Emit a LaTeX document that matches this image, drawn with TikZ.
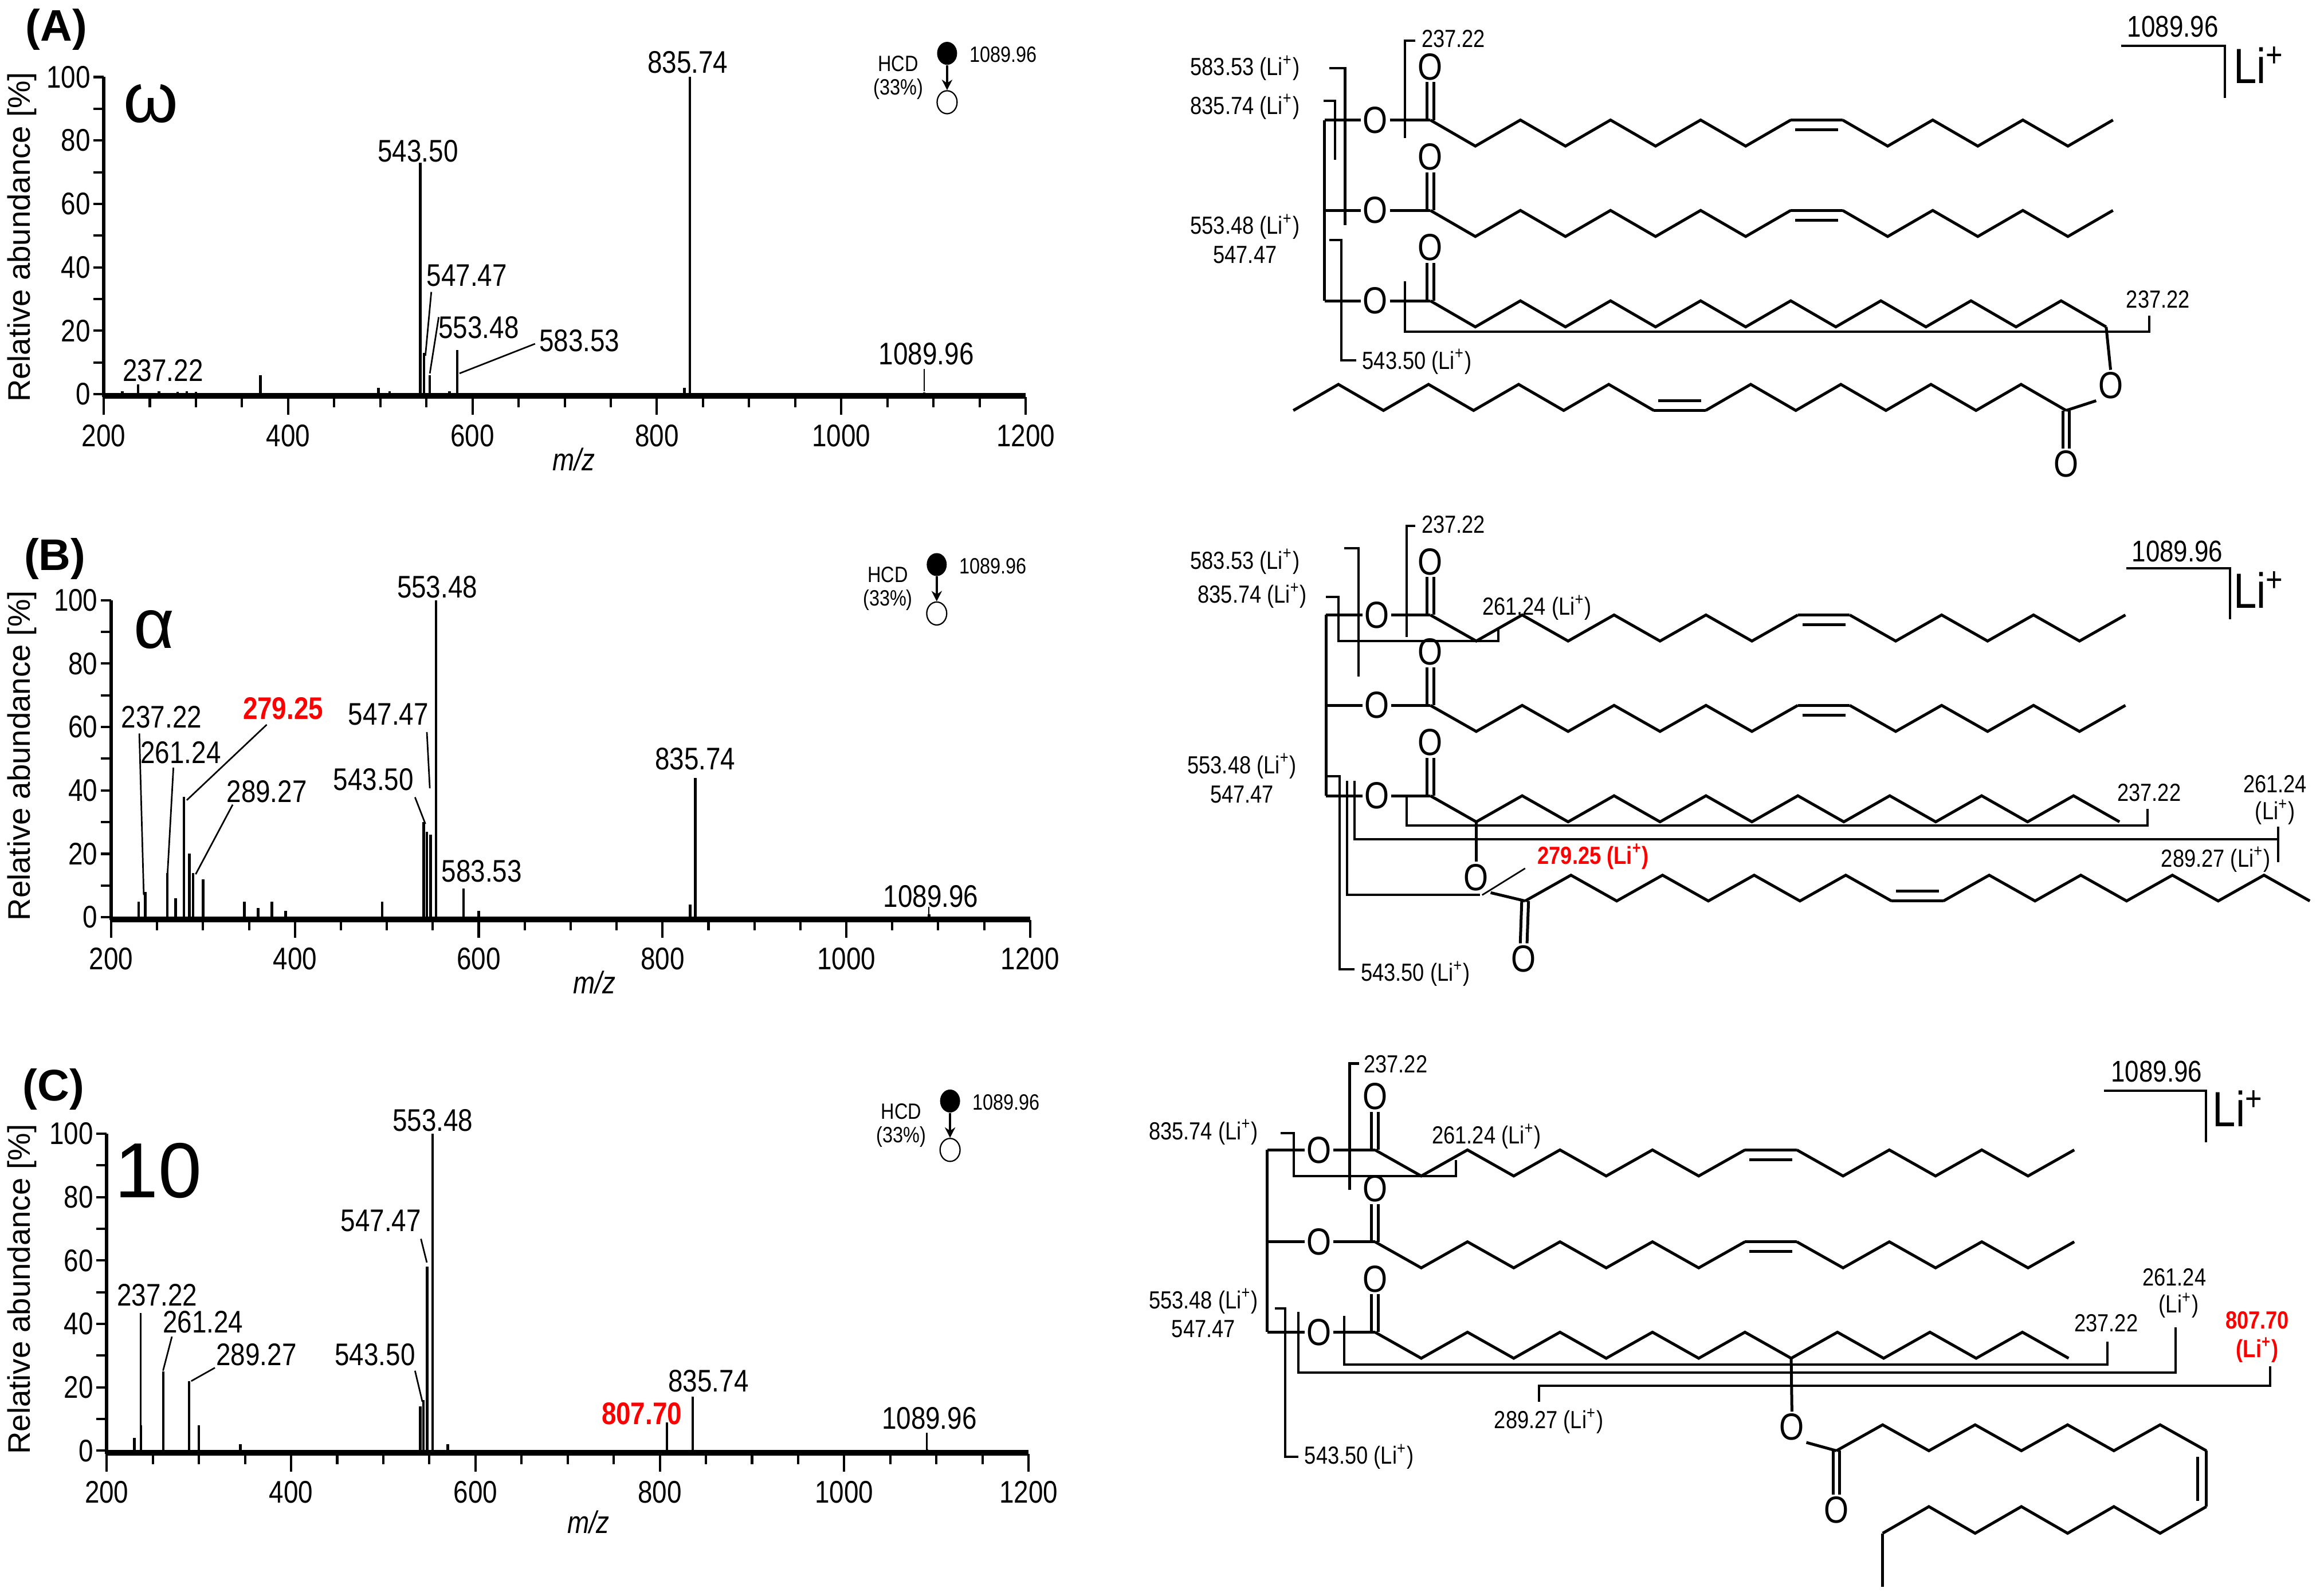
\documentclass[tikz,border=0pt]{standalone}
\usepackage{fontspec}
\setmainfont{Liberation Sans}
\newfontfamily\nar[FakeStretch=0.84]{Liberation Sans}
\usetikzlibrary{shapes.geometric,arrows.meta}
\tikzset{
 bond/.style={line width=1.1pt,line join=miter},
 brk/.style={line width=0.9pt},
 peak/.style={line width=1pt},
 axl/.style={line width=1.4pt},
 lead/.style={line width=0.6pt},
 atom/.style={inner sep=0.6pt,font=\nar\fontsize{14.5}{15}\selectfont},
 tl/.style={font=\nar\fontsize{12}{13}\selectfont},
 yl/.style={font=\fontsize{12}{13}\selectfont,rotate=90},
 cl/.style={font=\nar\fontsize{9.5}{10}\selectfont},
 red/.style={text=red,font=\nar\fontsize{9.5}{10}\selectfont\bfseries},
 pl/.style={font=\fontsize{17}{18}\selectfont\bfseries},
 lip/.style={font=\nar\fontsize{19}{20}\selectfont},
}
\newcommand\zzp[5]{% x0,y0,n,dx,dy
 \draw[bond] plot[samples at={0,...,#3}] ({#1+\x*#4},{#2+#5*mod(\x,2)});}
\newcommand\esterrow[8]{% id, xb, xo, xc, y, n1, n2, dx
 \node[atom] (#1o) at (#3,#5) {O};
 \node[atom] (#1oc) at (#4,{#5-36}) {O};
 \coordinate (#1c) at (#4,#5);
 \draw[bond] (#2,#5) -- (#1o.west);
 \draw[bond] (#1o.east) -- (#1c);
 \draw[bond] ([xshift=-1.3pt]#1c) -- ([xshift=-1.3pt]#1oc.south);
 \draw[bond] ([xshift=1.3pt]#1c) -- ([xshift=1.3pt]#1oc.south);
 \zzp{#4}{#5}{#6}{#8}{17.6}
 \pgfmathsetmacro\xe{#4+#6*#8}
 \coordinate (#1e) at ({#4+#6*#8},{#5+17.6*mod(#6,2)});
 \ifnum#7>0
  \pgfmathsetmacro\xf{\xe+35}
  \coordinate (#1f) at (\xf,#5);
  \draw[bond] (#1e) -- (#1f);
  \draw[bond] ([shift={(3,6.5)}]#1e) -- ([shift={(-3,6.5)}]#1f);
  \zzp{\xf}{#5}{#7}{#8}{17.6}
 \fi}
\newcommand\spec[4]{% id, ox, oy, sx
 \draw[line width=0.7pt] (#2,#3) -- ({#2+1000*#4},#3);
 \draw[axl] (#2,{#3+2}) -- ({#2+1000*#4},{#3+2});
 \draw[axl] (#2,{#3+2}) -- (#2,{#3-214});
 \foreach \v in {0,10,...,100}{\draw[brk] (#2,{#3-\v*2.14}) -- ++(-7,0);}
 \foreach \v in {0,20,...,100}{\node[tl,anchor=east,inner sep=1pt] (#1y\v) at ({#2-7},{#3-\v*2.14}) {\v};}
 \foreach \m in {200,250,...,1200}{\draw[brk] ({#2+(\m-200)*#4},{#3+2}) -- ++(0,7);}
 \foreach \m in {200,400,...,1200}{\draw[brk] ({#2+(\m-200)*#4},{#3+2}) -- ++(0,12);
   \node[tl] (#1x\m) at ({#2+(\m-200)*#4},{#3+28}) {\m};}
}
\newcommand\pks[4]{% ox, oy, sx, list
 \foreach \m/\h in {#4}{\draw[peak] ({#1+(\m-200)*#3},#2) -- ++(0,{-\h*2.14});}}
\newcommand\hcd[3]{% id, x, y
 \node[ellipse,fill=black,minimum width=0.27cm,minimum height=0.31cm,inner sep=0] (#1f) at (#2,#3) {};
 \node[ellipse,draw,line width=0.5pt,minimum width=0.27cm,minimum height=0.31cm,inner sep=0] (#1h) at (#2,{#3+33}) {};
 \draw[line width=1pt,-{Stealth[length=4pt,width=4pt]}] (#1f) -- (#1h);
 \node[font=\nar\fontsize{8.5}{9}\selectfont,anchor=west] (#1p) at ({#2+9},{#3+1}) {1089.96};
 \node[font=\nar\fontsize{8.5}{9}\selectfont] (#1a) at ({#2-33},{#3+7}) {HCD};
 \node[font=\nar\fontsize{8.5}{9}\selectfont] (#1b) at ({#2-33},{#3+24}) {(33\%)};
}
\begin{document}
\begin{tikzpicture}[x=0.02cm,y=-0.02cm]
\useasboundingbox (0,0) rectangle (1568,1077);
% ================= A spectrum
\node[pl] (pA) at (38,20) {(A)};
\node[font=\fontsize{27}{28}\selectfont] (om) at (102,70) {ω};
\spec{A}{70}{266}{0.622}
\pks{70}{266}{0.622}{220/1,237.22/3,260/1,280/0.8,290/1,300/0.8,370/6,498/2,510/1,543.5/73,547.47/13,553.48/6,575/1,583.53/14,830/2,835.74/100,1089.96/0.5}
\node[tl] (A1) at (110,250) {237.22};
\node[tl] (A2) at (282,102) {543.50};
\node[tl] (A3) at (315,186) {547.47};
\node[tl] (A4) at (323,221) {553.48};
\node[tl] (A5) at (391,230) {583.53};
\node[tl] (A6) at (464,42) {835.74};
\node[tl] (A7) at (625,239) {1089.96};
\draw[lead] (291,197) -- (287,240);
\draw[lead] (296,214) -- (290,252);
\draw[lead] (361,232) -- (310,252);
\draw[lead] (623.6,249) -- (623.6,264);
\node[yl] (Ay) at (15,160) {Relative abundance [\%]};
\node[tl] (Am) at (387,310) {\textit{m/z}};
\hcd{hA}{639}{36}
% ================= B spectrum
\node[pl] (pB) at (37,377) {(B)};
\node[font=\fontsize{27}{28}\selectfont] (al) at (104,425) {α};
\spec{B}{75}{619}{0.62}
\pks{75}{619}{0.62}{230/5,237.22/8,261.24/14,270/6,279.25/38,285/20,289.27/14,300/12,345/5,360/3,375/5,390/2,495/5,540/30,543.5/27,547.47/26,553.48/100,583.53/9,600/2,830/4,835.74/44,1089.96/1}
\node[tl] (B1) at (109,484) {237.22};
\node[tl] (B2) at (122,508) {261.24};
\node[tl,text=red,font=\nar\fontsize{12}{13}\selectfont\bfseries] (B3) at (191,478) {279.25};
\node[tl] (B4) at (262,482) {547.47};
\node[tl] (B5) at (180,534) {289.27};
\node[tl] (B6) at (252,526) {543.50};
\node[tl] (B7) at (325,588) {583.53};
\node[tl] (B8) at (469,512) {835.74};
\node[tl] (B9) at (295,396) {553.48};
\node[tl] (B10) at (628,605) {1089.96};
\draw[lead] (94,495) -- (97,604);
\draw[lead] (117,518) -- (113,590);
\draw[lead] (180,489) -- (126,540);
\draw[lead] (157,543) -- (132,590);
\draw[lead] (280,538) -- (287,556);
\draw[lead] (288,494) -- (290,532);
\draw[lead] (626.6,612) -- (626.6,619);
\node[yl] (By) at (15,510) {Relative abundance [\%]};
\node[tl] (Bm) at (401,663) {\textit{m/z}};
\hcd{hB}{632}{381}
% ================= C spectrum
\node[pl] (pC) at (36,735) {(C)};
\node[font=\fontsize{30}{32}\selectfont] (ten) at (107,790) {10};
\spec{C}{72}{979}{0.622}
\pks{72}{979}{0.622}{230/4,237.22/8,261.24/25,289.27/22,300/8,345/2,540/14,543.5/16,547.47/58,553.48/100,570/2,807.7/9,835.74/17,1089.96/0.5}
\node[tl] (C1) at (106,874) {237.22};
\node[tl] (C2) at (137,892) {261.24};
\node[tl] (C3) at (173,914) {289.27};
\node[tl] (C4) at (253,914) {543.50};
\node[tl] (C5) at (257,824) {547.47};
\node[tl] (C6) at (292,756) {553.48};
\node[tl,text=red,font=\nar\fontsize{12}{13}\selectfont\bfseries] (C7) at (433,954) {807.70};
\node[tl] (C8) at (478,932) {835.74};
\node[tl] (C9) at (627,957) {1089.96};
\draw[lead] (95,886) -- (95,968);
\draw[lead] (116,902) -- (110,925);
\draw[lead] (145,923) -- (129,932);
\draw[lead] (280,925) -- (285,946);
\draw[lead] (284,836) -- (288,852);
\draw[lead] (625.4,967) -- (625.4,979);
\node[yl] (Cy) at (15,870) {Relative abundance [\%]};
\node[tl] (Cm) at (397,1027) {\textit{m/z}};
\hcd{hC}{641}{743}
% ================= A structure
\draw[bond] (893.6,81) -- (893.6,203);
\esterrow{a1}{893.6}{928}{965}{81}{8}{6}{30.4}
\esterrow{a2}{893.6}{928}{965}{142}{8}{6}{30.4}
\esterrow{a3}{893.6}{928}{965}{203}{15}{0}{30.4}
\node[atom] (a4o) at (1424,260) {O};
\coordinate (a4c) at (1394,277);
\node[atom] (a4oc) at (1394,313) {O};
\draw[bond] (a3e) -- (a4o.north);
\draw[bond] (a4o.south west) -- (a4c);
\draw[bond] ([xshift=-1.3pt]a4c) -- ([xshift=-1.3pt]a4oc.north);
\draw[bond] ([xshift=1.3pt]a4c) -- ([xshift=1.3pt]a4oc.north);
\zzp{1394}{277}{8}{-30.4}{-17.6}
\coordinate (a4e) at (1150.8,277);
\coordinate (a4f) at (1115.8,277);
\draw[bond] (a4e) -- (a4f);
\draw[bond] ([shift={(-3,-6.5)}]a4e) -- ([shift={(3,-6.5)}]a4f);
\zzp{1115.8}{277}{8}{-30.4}{-17.6}
\draw[brk] (897,46) -- (907.5,46) -- (907.5,152);
\draw[brk] (893,68) -- (900.7,68) -- (900.7,108);
\draw[brk] (955,27.5) -- (948,27.5) -- (948,93);
\draw[brk] (897,162) -- (905,162) -- (905,243) -- (915,243);
\draw[brk] (948,190) -- (948,224) -- (1450,224) -- (1450,213);
\draw[brk] (1431,31) -- (1501,31) -- (1501,66);
\node[cl] (sa1) at (840,46) {583.53 (Li\textsuperscript{+})};
\node[cl] (sa2) at (840,72) {835.74 (Li\textsuperscript{+})};
\node[cl] (sa3) at (840,153) {553.48 (Li\textsuperscript{+})};
\node[cl] (sa4) at (840,172) {547.47};
\node[cl,anchor=west] (sa5) at (913,244) {543.50 (Li\textsuperscript{+})};
\node[cl,anchor=west] (sa6) at (953,26) {237.22};
\node[cl] (sa7) at (1456,202) {237.22};
\node[cl,font=\nar\fontsize{11.5}{12}\selectfont] (sa8) at (1466,18) {1089.96};
\node[lip] (sa9) at (1524,44) {Li\textsuperscript{+}};
% ================= B structure
\draw[bond] (894.7,415) -- (894.7,537);
\esterrow{b1}{894.7}{929}{965}{415}{8}{6}{31}
\esterrow{b2}{894.7}{929}{965}{476}{8}{6}{31}
\esterrow{b3}{894.7}{929}{965}{537}{15}{0}{31}
\node[atom] (b4o) at (996,592) {O};
\coordinate (b4c) at (1029,608);
\node[atom] (b4oc) at (1028,647) {O};
\draw[bond] (996,555) -- (b4o.north);
\draw[bond] (b4o.south east) -- (b4c);
\draw[bond] ([xshift=-1.3pt]b4c) -- ([xshift=-1.3pt]b4oc.north);
\draw[bond] ([xshift=1.3pt]b4c) -- ([xshift=1.3pt]b4oc.north);
\zzp{1029}{608}{8}{30.9}{-17.4}
\coordinate (b4e) at (1276.2,608);
\coordinate (b4f) at (1311.2,608);
\draw[bond] (b4e) -- (b4f);
\draw[bond] ([shift={(3,-6.5)}]b4e) -- ([shift={(-3,-6.5)}]b4f);
\zzp{1311.2}{608}{8}{30.9}{-17.4}
\draw[brk] (907,370) -- (916.5,370) -- (916.5,456.6);
\draw[brk] (894.7,403) -- (903,403) -- (903,432.6) -- (1011,432.6) -- (1011,425);
\draw[brk] (955,355) -- (949,355) -- (949,430);
\draw[brk] (894.7,524) -- (903.8,524) -- (903.8,654) -- (914,654);
\draw[brk] (909,527) -- (909,604) -- (998.6,604);
\draw[lead] (1000,604) -- (1029,586);
\draw[brk] (914,527) -- (914,566.4) -- (1537,566.4);
\draw[brk] (1537,558) -- (1537,582);
\draw[brk] (949,537) -- (949,557) -- (1449,557) -- (1449,546);
\draw[brk] (1434.5,383.5) -- (1504.5,383.5) -- (1504.5,418);
\node[cl] (sb1) at (840,379) {583.53 (Li\textsuperscript{+})};
\node[cl] (sb2) at (845,402) {835.74 (Li\textsuperscript{+})};
\node[cl,anchor=west] (sb3) at (953,354) {237.22};
\node[cl] (sb4) at (1037,410) {261.24 (Li\textsuperscript{+})};
\node[cl] (sb5) at (838,517) {553.48 (Li\textsuperscript{+})};
\node[cl] (sb6) at (838,536) {547.47};
\node[cl,anchor=west] (sb7) at (912,657) {543.50 (Li\textsuperscript{+})};
\node[red] (sb8) at (1075,578) {279.25 (Li\textsuperscript{+})};
\node[cl] (sb9) at (1450,535) {237.22};
\node[cl] (sb10) at (1535,529) {261.24};
\node[cl] (sb11) at (1535,548) {(Li\textsuperscript{+})};
\node[cl] (sb12) at (1495,580) {289.27 (Li\textsuperscript{+})};
\node[cl,font=\nar\fontsize{11.5}{12}\selectfont] (sb13) at (1469,372) {1089.96};
\node[lip] (sb14) at (1524,398) {Li\textsuperscript{+}};
% ================= C structure
\draw[bond] (855,776) -- (855,899);
\esterrow{c1}{855}{890}{927.7}{776}{8}{6}{31.2}
\esterrow{c2}{855}{890}{927.7}{838}{8}{6}{31.2}
\esterrow{c3}{855}{890}{927.7}{899}{15}{0}{31.2}
\node[atom] (c4o) at (1209,963) {O};
\coordinate (c4c) at (1239,979);
\node[atom] (c4oc) at (1239,1019) {O};
\draw[bond] (1208.5,916.6) -- (c4o.north);
\draw[bond] (c4o.south east) -- (c4c);
\draw[bond] ([xshift=-1.3pt]c4c) -- ([xshift=-1.3pt]c4oc.north);
\draw[bond] ([xshift=1.3pt]c4c) -- ([xshift=1.3pt]c4oc.north);
\zzp{1239}{979}{8}{31.2}{-17.5}
\coordinate (c4e) at (1488.6,979);
\coordinate (c4f) at (1488.6,1016.7);
\draw[bond] (c4e) -- (c4f);
\draw[bond] ([shift={(-6,4)}]c4e) -- ([shift={(-6,-4)}]c4f);
\zzp{1488.6}{1016.7}{7}{-31.2}{18}
\coordinate (c4g) at (1270.2,1034.7);
\coordinate (c4h) at (1270.2,1071);
\draw[bond] (c4g) -- (c4h);
\draw[brk] (917,717.7) -- (910.6,717.7) -- (910.6,802.8);
\draw[brk] (864,764.6) -- (873,764.6) -- (873,793.5) -- (982.2,793.5) -- (982.2,783);
\draw[brk] (860,883) -- (867,883) -- (867,983) -- (876,983);
\draw[brk] (876,885.4) -- (876,926.3) -- (1467.7,926.3) -- (1467.7,895.6);
\draw[brk] (907,887.9) -- (907,920.7) -- (1422,920.7) -- (1422,905.4);
\draw[brk] (1038.3,946) -- (1038.3,935.3) -- (1531.5,935.3) -- (1531.5,922);
\draw[brk] (1419.4,736) -- (1488.5,736) -- (1488.5,771);
\node[cl,anchor=west] (sc1) at (914,718) {237.22};
\node[cl] (sc2) at (812,764) {835.74 (Li\textsuperscript{+})};
\node[cl] (sc3) at (1003,767) {261.24 (Li\textsuperscript{+})};
\node[cl] (sc4) at (812,878) {553.48 (Li\textsuperscript{+})};
\node[cl] (sc5) at (812,897) {547.47};
\node[cl,anchor=west] (sc6) at (874,983) {543.50 (Li\textsuperscript{+})};
\node[cl] (sc7) at (1467,862) {261.24};
\node[cl] (sc8) at (1470,881) {(Li\textsuperscript{+})};
\node[cl] (sc9) at (1421,893) {237.22};
\node[red] (sc10) at (1523,891) {807.70};
\node[red] (sc11) at (1523,911) {(Li\textsuperscript{+})};
\node[cl] (sc12) at (1045,959) {289.27 (Li\textsuperscript{+})};
\node[cl,font=\nar\fontsize{11.5}{12}\selectfont] (sc13) at (1455,723) {1089.96};
\node[lip] (sc14) at (1510,748) {Li\textsuperscript{+}};
\end{tikzpicture}
\end{document}
